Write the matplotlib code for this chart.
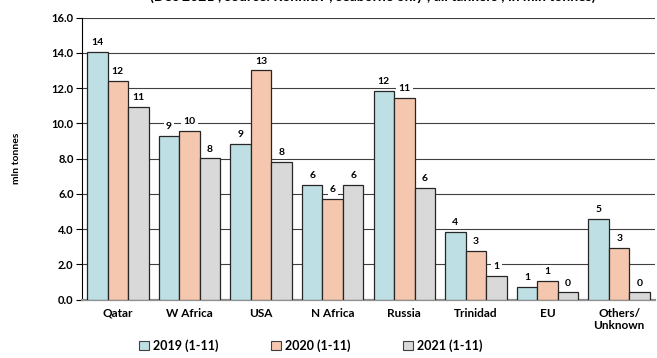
import matplotlib.pyplot as plt
import numpy as np
from matplotlib.patches import Patch

# ====== DATA ======
regions = ["Qatar", "W Africa", "USA", "N Africa", "Russia", "Trinidad", "EU", "Others/\nUnknown"]
y2019 = [14.03, 9.28, 8.81, 6.48, 11.85, 3.83, 0.73, 4.57]
y2020 = [12.38, 9.57, 13.0, 5.71, 11.45, 2.77, 1.04, 2.93]
y2021 = [10.93, 8.01, 7.80, 6.48, 6.34, 1.33, 0.41, 0.41]
series_names = ["2019 (1-11)", "2020 (1-11)", "2021 (1-11)"]
colors = ["#BEE0E4", "#F4C7AE", "#D9D9D9"]

plt.rcParams['font.family'] = ['Lato', 'DejaVu Sans']
plt.rcParams['font.weight'] = 'bold'

fig = plt.figure(figsize=(6.57, 3.58), dpi=100)
ax = fig.add_axes([82/657, 1 - 299.6/358, 573/657, (299.6 - 17.5)/358])

x = np.arange(len(regions))
w = 0.286
for i, (vals, c) in enumerate(zip([y2019, y2020, y2021], colors)):
    pos = x + (i - 1) * w
    ax.bar(pos, vals, width=w, color=c, edgecolor="#262626", linewidth=0.9, zorder=3)
    for px, v in zip(pos, vals):
        ax.annotate(f"{round(v)}", (px, v), xytext=(0, 3.5), textcoords="offset points",
                    ha="center", va="bottom", fontsize=7.5, fontweight="bold",
                    bbox=dict(boxstyle="square,pad=0.2", fc="white", ec="none"), zorder=4)

ax.set_xlim(-0.5, len(regions) - 0.5)
ax.set_ylim(0, 16)
ax.set_yticks(np.arange(0, 16.1, 2))
ax.set_yticklabels([f"{t:.1f}" for t in np.arange(0, 16.1, 2)], fontsize=8, fontweight="bold")
ax.yaxis.grid(True, color="#404040", linewidth=0.8, zorder=0)
ax.set_axisbelow(True)
ax.set_xticks(x)
ax.set_xticklabels(regions, fontsize=8.5, fontweight="bold", linespacing=1.15)
ax.tick_params(axis="x", length=0, pad=6)
ax.tick_params(axis="y", length=4, width=0.8, pad=2)
ax.set_ylabel("mln tonnes", fontsize=7.5, fontweight="bold", labelpad=22)

for s in ["top", "right"]:
    ax.spines[s].set_visible(False)
ax.spines["left"].set_color("black")
ax.spines["left"].set_linewidth(0.8)
ax.spines["bottom"].set_color("#909090")
ax.spines["bottom"].set_linewidth(1.6)

handles = [Patch(facecolor=c, edgecolor="#404040", linewidth=0.8) for c in colors]
fig.legend(handles, series_names, loc="lower center", bbox_to_anchor=(0.473, -0.015), ncol=3,
           frameon=False, handlelength=0.8, handleheight=0.8,
           handletextpad=0.3, columnspacing=4.2, prop={"weight": "bold", "size": 9})

# title mostly cut off at the top of the picture
fig.text(373/657, 1 - 3/358, "(Dec 2021 ; source: Refinitiv ; seaborne only ; all tankers ; in mln tonnes)",
         ha="center", va="bottom", fontsize=10, fontweight="bold")

fig.savefig("out.png", dpi=100)
